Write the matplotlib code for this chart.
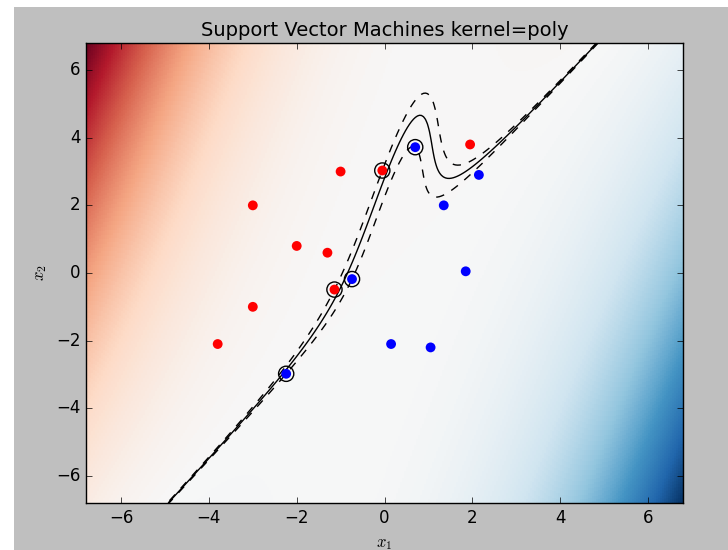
import numpy as np
import matplotlib
matplotlib.use('Agg')
import matplotlib.pyplot as plt
from matplotlib.patches import Rectangle

plt.style.use('classic')

# points: red = class -1, blue = class +1
red_x1 = [-3.8, -3.0, -3.0, -2.0, -1.3, -1.0, -0.05, -1.14, 1.95]
red_x2 = [-2.1, -1.0, 2.0, 0.8, 0.6, 3.0, 3.03, -0.49, 3.8]
blue_x1 = [-2.24, -0.74, 0.7, 1.35, 2.15, 1.85, 0.15, 1.05]
blue_x2 = [-2.98, -0.18, 3.72, 2.0, 2.9, 0.05, -2.1, -2.2]

C = 1e10
gamma = 0.5
degree = 3
lim = 6.8


def kernel(A, B):
    return (gamma * A @ B.T) ** degree


def fit_svm(X, y):
    # simple SMO (maximal violating pair)
    K = kernel(X, X)
    Q = (y[:, None] * y[None, :]) * K
    a = np.zeros(len(y))
    G = -np.ones(len(y))
    for it in range(500000):
        up = ((y > 0) & (a < C)) | ((y < 0) & (a > 0))
        low = ((y > 0) & (a > 0)) | ((y < 0) & (a < C))
        v = -y * G
        iu = np.where(up)[0]
        il = np.where(low)[0]
        i = iu[np.argmax(v[iu])]
        j = il[np.argmin(v[il])]
        if v[i] - v[j] < 1e-6:
            break
        curv = max(K[i, i] + K[j, j] - 2 * K[i, j], 1e-12)
        t = (v[i] - v[j]) / curv
        t = min(t, C - a[i] if y[i] > 0 else a[i])
        t = min(t, a[j] if y[j] > 0 else C - a[j])
        a[i] += t * y[i]
        a[j] -= t * y[j]
        G += t * (Q[:, i] * y[i] - Q[:, j] * y[j])
    free = (a > 1e-8) & (a < C - 1e-8)
    if free.any():
        rho = np.mean(y[free] * G[free])
    else:
        v = -y * G
        rho = -(v[up].max() + v[low].min()) / 2
    return a, rho


X = np.column_stack([red_x1 + blue_x1, red_x2 + blue_x2])
y = np.array([-1.0] * len(red_x1) + [1.0] * len(blue_x1))
alpha, rho = fit_svm(X, y)
sv = alpha > 1e-6

xx = np.linspace(-lim, lim, 300)
XX, YY = np.meshgrid(xx, xx)
grid = np.column_stack([XX.ravel(), YY.ravel()])
Z = (kernel(grid, X) @ (alpha * y) - rho).reshape(XX.shape)

fig = plt.figure(figsize=(7.28, 5.5), dpi=100, facecolor='white')
fig.patches.append(Rectangle((14 / 728, 0), 1, 543 / 550, transform=fig.transFigure,
                             facecolor='#bfbfbf', edgecolor='none', zorder=-10))
ax = fig.add_axes([86 / 728, 47 / 550, 597 / 728, 460 / 550])

ax.pcolormesh(XX, YY, Z, cmap=plt.cm.RdBu, shading='auto')
ax.contour(XX, YY, Z, levels=[-1, 0, 1], colors='k', linestyles=['--', '-', '--'])
ax.scatter(red_x1, red_x2, c='r', s=50, edgecolors='none', zorder=3)
ax.scatter(blue_x1, blue_x2, c='b', s=50, edgecolors='none', zorder=3)
ax.scatter(X[sv, 0], X[sv, 1], s=120, facecolors='none', edgecolors='k', linewidths=1, zorder=4)

ax.set_xlim(-lim, lim)
ax.set_ylim(-lim, lim)
ax.set_xlabel('$x_1$')
ax.set_ylabel('$x_2$')
ax.set_title('Support Vector Machines kernel=poly', fontsize=14)

fig.savefig('out.png', dpi=100, facecolor=fig.get_facecolor())
